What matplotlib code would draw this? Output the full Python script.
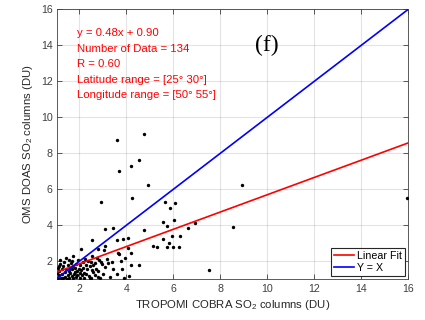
import numpy as np
import matplotlib
matplotlib.use('Agg')
import matplotlib.pyplot as plt

plt.rcParams['font.family'] = ['Liberation Sans', 'DejaVu Sans']
plt.rcParams['mathtext.fontset'] = 'custom'
plt.rcParams['mathtext.rm'] = 'Liberation Sans'

# scatter points (TROPOMI COBRA vs OMS DOAS)
tro_x = [4.75, 3.62, 3.70, 4.19, 4.54, 4.94, 2.92, 4.24, 8.91, 5.65,
         6.06, 5.87, 6.04, 5.55, 5.72, 6.63, 6.91, 8.53, 4.75, 6.29,
         5.94, 5.57, 5.82, 5.72, 6.24, 5.12, 5.29, 7.53, 3.09, 3.42,
         2.55, 2.09, 3.11, 3.62, 3.87, 4.06, 3.66, 3.70, 4.06, 3.94,
         4.19, 3.77, 4.19, 4.54, 3.83, 3.62, 3.91, 4.11, 3.23, 3.38,
         2.98, 3.09, 3.17, 2.78, 2.55, 2.60, 2.67, 2.84, 2.46, 2.21,
         2.03, 1.82, 1.74, 1.68, 2.78, 3.06, 15.93, 5.97,
         1.08, 1.12, 1.15, 1.10, 1.18, 1.22, 1.25, 1.28, 1.30, 1.35,
         1.38, 1.40, 1.45, 1.48, 1.50, 1.52, 1.55, 1.58, 1.60, 1.62,
         1.65, 1.68, 1.70, 1.72, 1.75, 1.78, 1.80, 1.85, 1.88, 1.90,
         1.92, 1.95, 1.98, 2.02, 2.05, 2.08, 2.12, 2.15, 2.18, 2.22,
         2.25, 2.28, 2.30, 2.35, 2.38, 2.42, 2.45, 2.48, 2.52, 2.55,
         2.60, 2.65, 2.70, 2.75, 2.80, 2.88, 2.92, 3.00, 1.20, 1.42,
         1.32, 1.58, 1.05, 1.14, 3.30, 3.45]
oms_y = [9.07, 8.73, 7.04, 7.32, 7.64, 6.25, 5.32, 5.51, 6.23, 5.32,
         5.23, 4.96, 4.31, 4.18, 3.97, 3.84, 4.12, 3.90, 3.75, 3.43,
         3.42, 3.23, 3.04, 2.82, 2.81, 2.86, 2.82, 1.54, 3.81, 3.86,
         3.16, 2.68, 2.88, 3.16, 3.23, 3.29, 2.47, 2.42, 2.73, 2.21,
         2.45, 2.01, 1.79, 1.82, 1.57, 1.29, 1.10, 1.19, 1.90, 1.99,
         1.86, 1.71, 2.12, 1.12, 1.53, 1.40, 1.90, 2.07, 1.07, 1.38,
         1.34, 1.40, 2.27, 2.04, 2.68, 2.64, 5.51, 2.79,
         1.05, 1.22, 1.45, 1.62, 1.85, 1.10, 1.30, 1.55, 1.75, 1.95,
         1.15, 1.40, 1.60, 1.02, 1.25, 1.82, 1.48, 1.10, 1.65, 1.35,
         1.92, 1.20, 1.55, 1.05, 1.75, 1.30, 1.62, 1.12, 1.85, 1.45,
         1.25, 2.05, 1.60, 1.08, 1.78, 1.50, 1.22, 1.95, 1.65, 1.05,
         2.15, 1.80, 1.30, 1.58, 2.00, 1.20, 1.72, 1.95, 1.10, 2.30,
         1.80, 1.25, 1.60, 2.20, 1.45, 1.05, 1.95, 1.30, 2.10, 2.20,
         1.05, 2.05, 1.35, 1.75, 1.15, 1.55]

fit_slope = 0.48
fit_int = 0.90
info_lines = ['y = 0.48x + 0.90', 'Number of Data = 134', 'R = 0.60',
              'Latitude range = [25\u00b0 30\u00b0]',
              'Longitude range = [50\u00b0 55\u00b0]']
ticks = [2, 4, 6, 8, 10, 12, 14, 16]

fig = plt.figure(figsize=(4.25, 3.2), dpi=100)
ax = fig.add_axes([0.1334, 0.127, 0.8273, 0.844])

x0, x1 = 1.04, 16
ax.scatter(tro_x, oms_y, s=6, color='black', zorder=3, linewidths=0)
xl = np.array([x0, x1])
ax.plot(xl, fit_slope * xl + fit_int, color='red', lw=1.2, label='Linear Fit', zorder=4)
ax.plot(xl, xl, color='blue', lw=1.2, label='Y = X', zorder=4)

ax.set_xlim(x0, x1)
ax.set_ylim(1.0, 16)
ax.set_xticks(ticks)
ax.set_yticks(ticks)
ax.grid(True, color='#262626', alpha=0.12, lw=0.8)
ax.set_axisbelow(True)
ax.tick_params(direction='in', length=3.5, width=0.6, top=True, right=True,
               labelsize=7.7, colors='#404040', pad=3)
for sp in ax.spines.values():
    sp.set_color('#404040')
    sp.set_linewidth(0.6)

ax.set_xlabel(r'TROPOMI COBRA SO$_2$ columns (DU)', fontsize=8.2, color='#262626', labelpad=3)
ax.set_ylabel(r'OMS DOAS SO$_2$ columns (DU)', fontsize=8.2, color='#262626', labelpad=4)

for i, s in enumerate(info_lines):
    ax.text(0.058, 0.912 - i * 0.0578, s, transform=ax.transAxes, color='red',
            fontsize=8.2, va='center', ha='left')

ax.text(10, 14.0, '(f)', fontsize=17, family=['Liberation Serif'], ha='center', va='center')

leg = ax.legend(loc='lower right', fontsize=7.7, handlelength=1.8, handletextpad=0.3,
                borderpad=0.3, labelspacing=0.2, fancybox=False, framealpha=1,
                borderaxespad=0.3)
leg.get_frame().set_edgecolor('#262626')
leg.get_frame().set_linewidth(0.8)

fig.savefig('out.png', dpi=100)
